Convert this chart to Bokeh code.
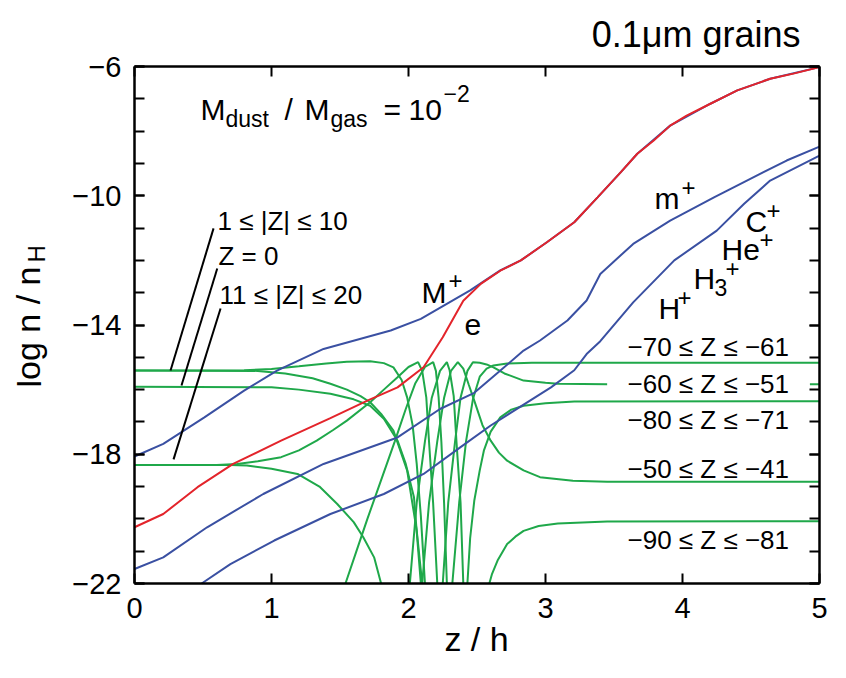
from bokeh.plotting import figure
from bokeh.models import Label, LinearAxis, FixedTicker, CustomJSTickFormatter, Range1d
from bokeh.embed import file_html
from bokeh.resources import INLINE

# ---------------- data (z/h, log n/nH) ----------------
e_z = [0, 0.21, 0.46, 0.72, 1.07, 1.43, 1.70, 1.92, 2.11, 2.25, 2.40, 2.53, 2.67, 2.82, 3.01, 3.21, 3.38, 3.55, 3.67, 3.79, 3.91, 4.03, 4.20, 4.40, 4.52, 4.64, 4.81, 5.0]
e_y = [-20.26, -19.85, -19.02, -18.30, -17.58, -16.88, -16.34, -15.93, -15.31, -14.38, -13.25, -12.72, -12.32, -12.0, -11.44, -10.82, -10.05, -9.27, -8.70, -8.29, -7.83, -7.52, -7.16, -6.74, -6.56, -6.38, -6.22, -6.02]

Mp_z = [0, 0.21, 0.51, 0.80, 1.04, 1.38, 1.87, 2.09, 2.45, 2.67, 2.82, 3.01, 3.21, 3.38, 3.55, 3.67, 3.91, 4.20, 4.40, 4.64, 5.0]
Mp_y = [-18.07, -17.68, -16.86, -16.03, -15.41, -14.74, -14.17, -13.81, -12.93, -12.31, -12.0, -11.44, -10.82, -10.05, -9.27, -8.70, -7.83, -7.16, -6.74, -6.38, -6.02]

mp_z = [0, 0.21, 0.53, 0.94, 1.38, 1.92, 2.23, 2.48, 2.66, 2.84, 2.96, 3.16, 3.30, 3.40, 3.64, 3.91, 4.23, 4.47, 4.76, 5.0]
mp_y = [-21.55, -21.19, -20.26, -19.23, -18.30, -17.48, -16.6, -16.1, -15.45, -14.79, -14.48, -13.86, -13.24, -12.42, -11.49, -10.77, -10.05, -9.53, -8.91, -8.48]

Hp_z = [0.49, 0.70, 1.02, 1.43, 1.82, 2.11, 2.38, 2.60, 3.04, 3.21, 3.30, 3.40, 3.64, 3.94, 4.25, 4.45, 4.64, 5.0]
Hp_y = [-22.0, -21.4, -20.67, -19.85, -19.23, -18.61, -17.78, -17.11, -15.93, -15.4, -14.9, -14.5, -13.3, -12.0, -11.08, -10.25, -9.53, -8.76]

# grain charge bins
gZp1_10_z = [0, 0.9, 1.1, 1.3, 1.43, 1.55, 1.65, 1.72, 1.8, 1.89, 1.99, 2.06, 2.10]
gZp1_10_y = [-15.41, -15.42, -15.5, -15.65, -15.82, -16.0, -16.2, -16.39, -16.75, -17.27, -18.5, -20.36, -22]
gZm1_10_z = [0, 0.8, 1.0, 1.2, 1.4, 1.55, 1.72, 1.82, 1.89, 1.95, 1.99, 2.03, 2.06, 2.09, 2.12]
gZm1_10_y = [-15.41, -15.40, -15.36, -15.28, -15.19, -15.14, -15.12, -15.18, -15.31, -15.7, -16.24, -17.1, -18.3, -19.9, -22]
gZ0_z = [0, 1.0, 1.2, 1.43, 1.6, 1.72, 1.82, 1.92, 1.98, 2.04, 2.09]
gZ0_y = [-15.91, -15.93, -16.0, -16.13, -16.3, -16.5, -16.9, -17.58, -18.3, -19.33, -22]
gZp11_20_z = [0, 0.7, 0.82, 1.0, 1.19, 1.35, 1.48, 1.6, 1.67, 1.75, 1.80]
gZp11_20_y = [-18.33, -18.33, -18.35, -18.45, -18.61, -19.0, -19.54, -20.1, -20.57, -21.2, -22]
gZm11_20_z = [0, 0.6, 0.75, 0.9, 1.07, 1.2, 1.33, 1.45, 1.55, 1.72, 1.82, 1.92, 2.0, 2.07, 2.10, 2.13, 2.15, 2.18, 2.21]
gZm11_20_y = [-18.33, -18.33, -18.3, -18.22, -18.09, -17.88, -17.58, -17.25, -16.96, -16.39, -16.0, -15.62, -15.3, -15.15, -15.42, -16.25, -17.62, -19.53, -22]
gZm21_30_z = [1.54, 1.62, 1.70, 1.80, 1.90, 1.98, 2.05, 2.12, 2.18, 2.20, 2.22, 2.24, 2.26, 2.28]
gZm21_30_y = [-22, -21.0, -20.0, -18.8, -17.6, -16.6, -15.8, -15.3, -15.15, -15.42, -16.25, -17.62, -19.53, -22]
gZm31_40_z = [2.01, 2.06, 2.12, 2.17, 2.23, 2.28, 2.30, 2.33, 2.35, 2.38, 2.40]
gZm31_40_y = [-22, -19.5, -17.6, -16.25, -15.42, -15.15, -15.4, -16.2, -17.6, -19.5, -22]
gZm41_50_z = [2.10, 2.15, 2.21, 2.26, 2.31, 2.36, 2.40, 2.44, 2.48, 2.54, 2.60, 2.66, 2.72, 2.84, 2.96, 3.2, 3.45, 5.0]
gZm41_50_y = [-22, -19.5, -17.6, -16.25, -15.42, -15.15, -15.35, -15.85, -16.34, -17.1, -17.58, -17.95, -18.2, -18.5, -18.71, -18.82, -18.85, -18.85]
gZm51_60_z = [2.25, 2.29, 2.34, 2.38, 2.43, 2.47, 2.52, 2.57, 2.62, 2.7, 2.84, 3.0, 3.09, 3.45, float("nan"), 4.93, 5.0]
gZm51_60_y = [-22, -19.5, -17.6, -16.25, -15.42, -15.15, -15.17, -15.22, -15.31, -15.5, -15.72, -15.79, -15.82, -15.83, float("nan"), -15.83, -15.83]
gZm61_70_z = [2.32, 2.37, 2.42, 2.47, 2.52, 2.57, 2.62, 2.72, 2.9, 5.0]
gZm61_70_y = [-22, -19.5, -17.6, -16.3, -15.6, -15.35, -15.25, -15.19, -15.17, -15.17]
gZm71_80_z = [2.43, 2.45, 2.48, 2.52, 2.55, 2.6, 2.67, 2.75, 2.84, 3.0, 3.21, 5.0]
gZm71_80_y = [-22, -20.6, -19.44, -18.5, -17.89, -17.3, -16.86, -16.62, -16.5, -16.42, -16.37, -16.36]
gZm81_90_z = [2.59, 2.61, 2.65, 2.72, 2.78, 2.84, 2.95, 3.09, 3.45, 5.0]
gZm81_90_y = [-22, -21.7, -21.29, -20.78, -20.55, -20.37, -20.22, -20.14, -20.08, -20.07]

green_curves = [
    (gZp1_10_z, gZp1_10_y), (gZm1_10_z, gZm1_10_y), (gZ0_z, gZ0_y),
    (gZp11_20_z, gZp11_20_y), (gZm11_20_z, gZm11_20_y), (gZm21_30_z, gZm21_30_y),
    (gZm31_40_z, gZm31_40_y), (gZm41_50_z, gZm41_50_y), (gZm51_60_z, gZm51_60_y),
    (gZm61_70_z, gZm61_70_y), (gZm71_80_z, gZm71_80_y), (gZm81_90_z, gZm81_90_y),
]

# leader lines for left-hand labels
lead_x0 = [0.577, 0.604, 0.628]
lead_y0 = [-11.01, -12.25, -13.49]
lead_x1 = [0.263, 0.343, 0.285]
lead_y1 = [-15.41, -15.87, -18.16]

x_ticks = [0, 1, 2, 3, 4, 5]
y_major = [-22, -18, -14, -10, -6]
y_minor = list(range(-22, -5))

RED = "#e3242b"
BLUE = "#3a50a2"
GREEN = "#1fa84a"
FONT = "Liberation Sans"

# plotting box inside the 846x678 canvas (pixels)
BX0, BX1, BY0, BY1 = 134, 819, 66, 583
W, H = 846, 678
SHIFT = 9  # correction of the rendered text baseline


def X(px):
    return (px - BX0) / (BX1 - BX0) * 5


def Y(py):
    return -6 - (py - BY0) / (BY1 - BY0) * 16


# ---------------- figure ----------------
p = figure(width=W, height=H, x_range=Range1d(X(0), X(W)), y_range=Range1d(Y(H), Y(0)),
           output_backend="svg", toolbar_location=None,
           x_axis_location=None, y_axis_location=None, min_border=0)
p.grid.visible = False
p.outline_line_color = None
p.background_fill_color = "white"
p.border_fill_color = "white"

bottom = LinearAxis(ticker=FixedTicker(ticks=x_ticks), fixed_location=-22, bounds=(0, 5))
top = LinearAxis(ticker=FixedTicker(ticks=x_ticks), fixed_location=-6, bounds=(0, 5))
left = LinearAxis(ticker=FixedTicker(ticks=y_major, minor_ticks=y_minor), fixed_location=0, bounds=(-22, -6))
right = LinearAxis(ticker=FixedTicker(ticks=y_major, minor_ticks=y_minor), fixed_location=5, bounds=(-22, -6))
left.formatter = CustomJSTickFormatter(code="return '\u2212' + Math.abs(tick);")

for ax in [bottom, top, left, right]:
    ax.major_tick_in = 10
    ax.major_tick_out = 0
    ax.minor_tick_in = 10
    ax.minor_tick_out = 0
    ax.axis_line_width = 2.5
    ax.major_tick_line_width = 2
    ax.minor_tick_line_width = 2
    ax.major_label_text_font = FONT
    ax.major_label_text_font_size = "29px"
    ax.major_label_text_color = "black"
for ax in [top, right]:
    ax.major_label_text_color = None
bottom.major_label_standoff = 14
left.major_label_standoff = 13

p.add_layout(bottom, "below")
p.add_layout(left, "left")
p.add_layout(top, "above")
p.add_layout(right, "right")

# curves
for zz, yy in green_curves:
    p.line(zz, yy, line_color=GREEN, line_width=2)
for zz, yy in [(Hp_z, Hp_y), (mp_z, mp_y), (Mp_z, Mp_y)]:
    p.line(zz, yy, line_color=BLUE, line_width=2)
p.line(e_z, e_y, line_color=RED, line_width=2)
p.segment(x0=lead_x0, y0=lead_y0, x1=lead_x1, y1=lead_y1, line_color="black", line_width=2)


# ---------------- texts ----------------
def txt(s, px, py, size, align="left", vertical=False):
    if vertical:
        px, ang = px - SHIFT, 1.5708
    else:
        py, ang = py - SHIFT, 0.0
    p.add_layout(Label(x=X(px), y=Y(py), text=s, text_font=FONT,
                       text_font_size=f"{size}px", text_align=align,
                       text_baseline="alphabetic", angle=ang, text_color="black"))


# title and axis titles
txt("0.1\u03bcm grains", 800, 43, 36, align="right")
txt("z / h", 476, 647, 34, align="center")
txt("log n / n", 37, 387, 34, vertical=True)
txt("H", 45, 262, 24, vertical=True)

# M_dust / M_gas = 10^-2
txt("M", 200, 118, 30)
txt("dust", 225, 127, 23)
txt("/", 284, 118, 30)
txt("M", 304, 118, 30)
txt("gas", 330, 127, 23)
txt("=", 383, 118, 30)
txt("10", 408, 118, 30)
txt("\u22122", 443, 102, 23)

# species
txt("M", 421, 301, 30)
txt("+", 448, 289, 24)
txt("e", 464, 333, 30)
txt("m", 654, 207, 30)
txt("+", 681, 196, 24)
txt("C", 745, 230, 30)
txt("+", 766, 219, 24)
txt("He", 721, 258, 30)
txt("+", 759, 248, 24)
txt("H", 693, 287, 30)
txt("3", 714, 296, 23)
txt("+", 725, 277, 24)
txt("H", 658, 317, 30)
txt("+", 677, 306, 24)

# charge-bin labels
txt("1 \u2264 |Z| \u2264 10", 217, 229, 26)
txt("Z = 0", 218, 264, 26)
txt("11 \u2264 |Z| \u2264 20", 219, 303, 26)
txt("\u221270 \u2264 Z \u2264 \u221261", 627, 355, 26)
txt("\u221260 \u2264 Z \u2264 \u221251", 627, 392, 26)
txt("\u221280 \u2264 Z \u2264 \u221271", 627, 428, 26)
txt("\u221250 \u2264 Z \u2264 \u221241", 627, 477, 26)
txt("\u221290 \u2264 Z \u2264 \u221281", 627, 548, 26)

open("out.html", "w").write(file_html(p, INLINE))
